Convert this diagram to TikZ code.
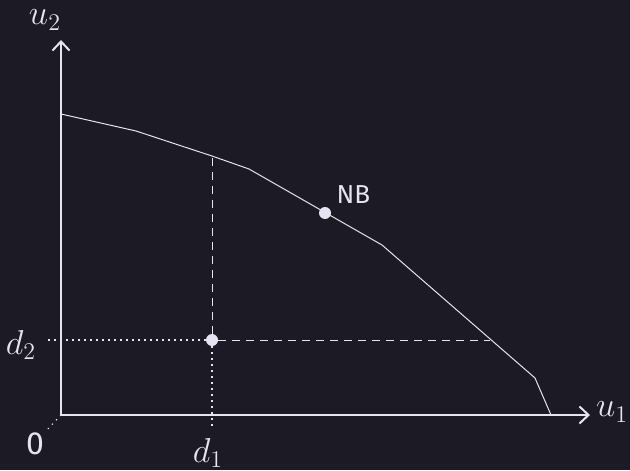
\documentclass[tikz,border=0pt]{standalone}
\usepackage{fontspec}
\setmainfont{Fira Sans}
\usetikzlibrary{arrows.meta, calc, positioning}
\definecolor{bgcol}{HTML}{1C1A24}
\definecolor{fgcol}{HTML}{E6E3F2}
\tikzset{
  axis/.style={->, line width=1pt},
  frontier/.style={line width=0.5pt},
  guide/.style={line width=0.5pt, dash pattern=on 4pt off 3pt},
  helper/.style={line width=0.6pt, dash pattern=on 0.6pt off 2.4pt},
  pt/.style={circle, fill=fgcol, inner sep=0pt, minimum size=6pt},
  lbl/.style={font=\fontsize{13}{15}\selectfont},
  mlbl/.style={font=\fontsize{18}{20}\selectfont, inner sep=0pt}
}

\begin{document}
\begin{tikzpicture}[x=0.5pt, y=-0.5pt, >={Straight Barb[length=1.6mm, width=3mm]}, color=fgcol, text=fgcol]
  \fill[bgcol] (0,0) rectangle (630,470);
  \useasboundingbox (0,0) rectangle (630,470);
  % ===== Ejes =====
  \coordinate (O) at (61,415);
  \coordinate (xend) at (590,415);
  \coordinate (yend) at (61,40);
  \draw[axis] (O)--(xend);
  \draw[axis] (O)--(yend);
  \node[mlbl] (u1) at (612,412) {$u_1$};
  \node[mlbl] (u2) at (45,20) {$u_2$};
  \coordinate (zlo) at (46,431);
  \draw[helper] (O)--(zlo);
  \node[lbl, font=\fontsize{16}{18}\selectfont] (zero) at (35,444) {0};
  % ===== Frontera =====
  \coordinate (f0) at (61,114);
  \coordinate (f1) at (136,131);
  \coordinate (f2) at (212,156);
  \coordinate (f3) at (249,169);
  \coordinate (f4) at (382,245);
  \coordinate (f5) at (535,378);
  \coordinate (f6) at (551,415);
  \draw[frontier] (f0)--(f1)--(f2)--(f3)--(f4)--(f5)--(f6);
  % ===== Desacuerdo y NB =====
  \node[pt] (NB) at (325,213) {};
  \node[lbl, above right=-1pt and 0pt of NB] (NBlbl) {NB};
  \node[pt] (d) at (212,340) {};
  \coordinate (dx) at (490,340);
  \coordinate (d2end) at (45,340);
  \coordinate (d1end) at (212,430);
  \draw[guide] (d)--(f2);
  \draw[guide] (d)--(dx);
  \draw[helper] (d)--(d2end);
  \draw[helper] (d)--(d1end);
  \node[mlbl] (d2lbl) at (21,345) {$d_2$};
  \node[mlbl] (d1lbl) at (208,453) {$d_1$};
\end{tikzpicture}
\end{document}
